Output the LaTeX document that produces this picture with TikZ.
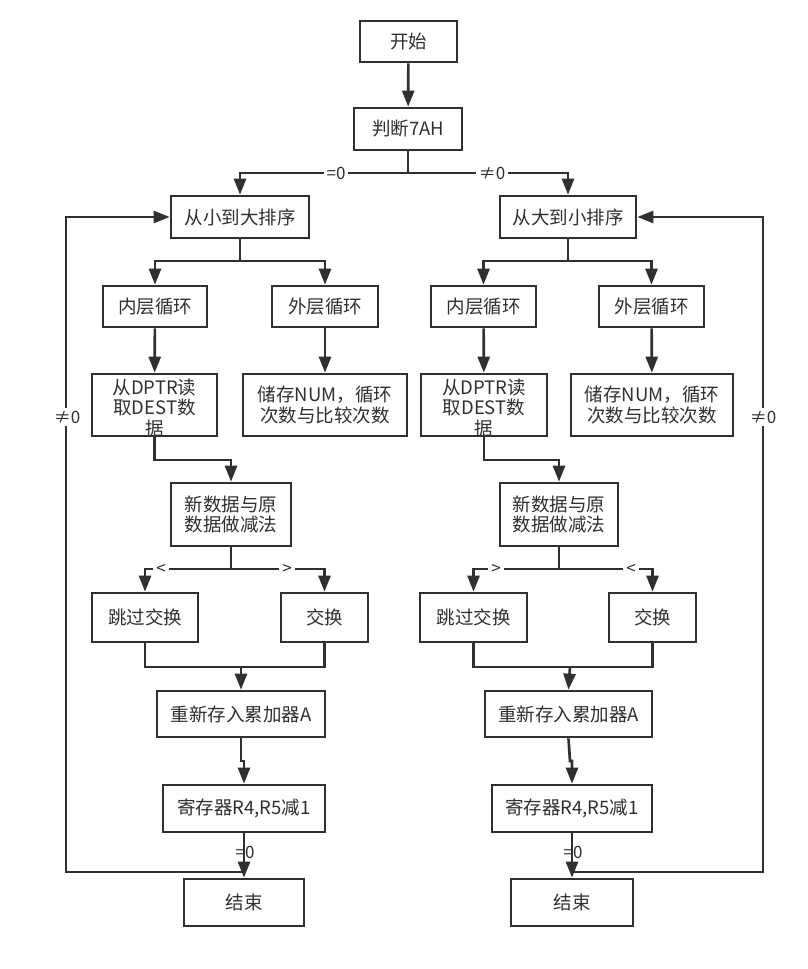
\documentclass[tikz,border=0pt]{standalone}
\usepackage{fontspec}
\setmainfont{Noto Sans CJK SC}
\usetikzlibrary{arrows.meta}
\definecolor{ink}{HTML}{303030}
\begin{document}
\begin{tikzpicture}[x=1pt,y=-1pt,
  box/.style={draw=ink, line width=2.7pt, rectangle, inner sep=0pt, text=ink,
    font=\fontsize{18.5}{20.5}\selectfont, align=center},
  conn/.style={draw=ink, line width=2.7pt},
  arr/.style={conn, -{Triangle[length=16pt,width=12pt]}},
  lbl/.style={fill=white, inner sep=3pt, text=ink, font=\fontsize{17}{19}\selectfont},
  plainlbl/.style={inner sep=0pt, text=ink, font=\fontsize{17}{19}\selectfont}]
\path[fill=white,use as bounding box] (0,0) rectangle (807,969);

% boxes
\node[box, minimum width=97pt, minimum height=41pt] (start) at (408.5,41.5) {开始};
\node[box, minimum width=108pt, minimum height=42pt] (judge) at (408,129) {判断7AH};
\node[box, minimum width=138pt, minimum height=42pt] (sortL) at (240,217) {从小到大排序};
\node[box, minimum width=136pt, minimum height=42pt] (sortR) at (568,217) {从大到小排序};
\node[box, minimum width=104pt, minimum height=41pt] (innerL) at (155,306.5) {内层循环};
\node[box, minimum width=106pt, minimum height=41pt] (outerL) at (325,306.5) {外层循环};
\node[box, minimum width=105pt, minimum height=41pt] (innerR) at (483.5,306.5) {内层循环};
\node[box, minimum width=105pt, minimum height=41pt] (outerR) at (651.5,306.5) {外层循环};
\node[box, minimum width=125pt, minimum height=62pt] (dptrL) at (154.5,405) {};
\node[box, draw=none] (dptrLt) at (154.5,407.5) {从DPTR读\\取DEST数\\据};
\node[box, minimum width=164pt, minimum height=62pt] (storeL) at (325,405) {储存NUM，循环\\次数与比较次数};
\node[box, minimum width=126pt, minimum height=62pt] (dptrR) at (484,405) {};
\node[box, draw=none] (dptrRt) at (484,407.5) {从DPTR读\\取DEST数\\据};
\node[box, minimum width=162pt, minimum height=62pt] (storeR) at (652,405) {储存NUM，循环\\次数与比较次数};
\node[box, minimum width=120pt, minimum height=63pt] (subL) at (231,514.5) {新数据与原\\数据做减法};
\node[box, minimum width=118pt, minimum height=63pt] (subR) at (559,514.5) {新数据与原\\数据做减法};
\node[box, minimum width=106pt, minimum height=49pt] (skipL) at (145,617.5) {跳过交换};
\node[box, minimum width=87pt, minimum height=49pt] (swapL) at (324.5,617.5) {交换};
\node[box, minimum width=107pt, minimum height=49pt] (skipR) at (473.5,617.5) {跳过交换};
\node[box, minimum width=87pt, minimum height=49pt] (swapR) at (652.5,617.5) {交换};
\node[box, minimum width=168pt, minimum height=46pt] (accL) at (241,714) {重新存入累加器A};
\node[box, minimum width=167pt, minimum height=46pt] (accR) at (568.5,714) {重新存入累加器A};
\node[box, minimum width=162pt, minimum height=47pt] (regL) at (244,808.5) {寄存器R4,R5减1};
\node[box, minimum width=160pt, minimum height=47pt] (regR) at (572,808.5) {寄存器R4,R5减1};
\node[box, minimum width=120pt, minimum height=47pt] (endL) at (244,902.5) {结束};
\node[box, minimum width=122pt, minimum height=47pt] (endR) at (572,902.5) {结束};

% helper coordinates
\coordinate (sp1) at (408,173);
\coordinate (brL) at (240,261);
\coordinate (brR) at (568,261);
\coordinate (dL) at (154.5,460);
\coordinate (dR) at (484,460);
\coordinate (sL) at (231,569);
\coordinate (sR) at (559,569);
\coordinate (mL) at (241,667);
\coordinate (mR) at (570,667);
\coordinate (jL) at (241,761);
\coordinate (jR) at (570,761);
\coordinate (lpL) at (244,872);
\coordinate (lpR) at (572,872);
\coordinate (cL) at (66,872);
\coordinate (cR) at (763,872);

% connectors
\draw[arr] (start) -- (judge);
\draw[conn] (judge.south) -- (sp1);
\draw[arr] (sp1) -| (sortL.north);
\draw[arr] (sp1) -| (sortR.north);

\draw[conn] (sortL.south) -- (brL);
\draw[arr] (brL) -| (innerL.north);
\draw[arr] (brL) -| (outerL.north);
\draw[conn] (sortR.south) -- (brR);
\draw[arr] (brR) -| (innerR.north);
\draw[arr] (brR) -| (outerR.north);

\draw[arr] (innerL) -- (dptrL);
\draw[arr] (outerL) -- (storeL);
\draw[arr] (innerR) -- (dptrR);
\draw[arr] (outerR) -- (storeR);

\draw[arr] (dptrL.south) -- (dL) -| (subL.north);
\draw[arr] (dptrR.south) -- (dR) -| (subR.north);

\draw[conn] (subL.south) -- (sL);
\draw[arr] (sL) -| (skipL.north);
\draw[arr] (sL) -| (swapL.north);
\draw[conn] (subR.south) -- (sR);
\draw[arr] (sR) -| (skipR.north);
\draw[arr] (sR) -| (swapR.north);

\draw[conn] (skipL.south) |- (mL) -| (swapL.south);
\draw[arr] (mL) -- (accL.north);
\draw[conn] (skipR.south) |- (mR) -| (swapR.south);
\draw[arr] (mR) -- (accR.north);

\draw[arr] (accL.south) -- (jL) -| (regL.north);
\draw[arr] (accR.south) -- (jR) -| (regR.north);

\draw[arr] (regL) -- (endL);
\draw[arr] (regR) -- (endR);

\draw[arr] (lpL) -- (cL) |- (sortL.west);
\draw[arr] (lpR) -- (cR) |- (sortR.east);

% labels
\node[lbl] (l1) at (336,173) {=0};
\node[lbl] (l2) at (492,173) {≠0};
\node[lbl] (l3) at (67,417) {≠0};
\node[lbl] (l4) at (763,417) {≠0};
\node[lbl] (l5) at (161,569) {<};
\node[lbl] (l6) at (287,569) {>};
\node[lbl] (l7) at (496,569) {>};
\node[lbl] (l8) at (631,569) {<};
\node[plainlbl] (l9) at (245,852) {=0};
\node[plainlbl] (l10) at (573,852) {=0};
\end{tikzpicture}
\end{document}
